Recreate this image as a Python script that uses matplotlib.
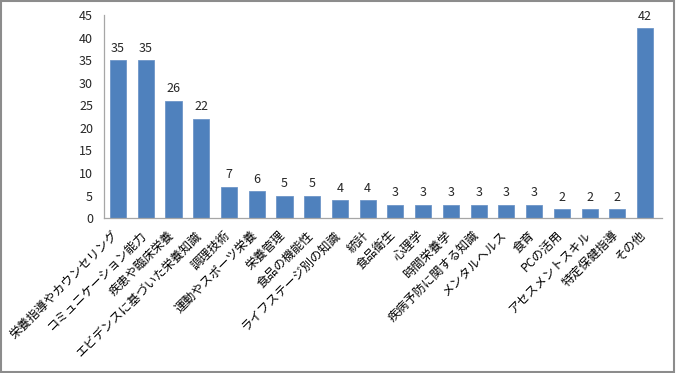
import matplotlib
matplotlib.use("Agg")
import matplotlib.pyplot as plt
import matplotlib.transforms as mtransforms
from matplotlib.patches import Rectangle

plt.rcParams["font.family"] = ["Noto Sans CJK JP", "DejaVu Sans"]

categories = [
    "栄養指導やカウンセリング", "コミュニケーション能力", "疾患や臨床栄養",
    "エビデンスに基づいた栄養知識", "調理技術", "運動やスポーツ栄養", "栄養管理",
    "食品の機能性", "ライフステージ別の知識", "統計", "食品衛生", "心理学",
    "時間栄養学", "疾病予防に関する知識", "メンタルヘルス", "食育", "PCの活用",
    "アセスメントスキル", "特定保健指導", "その他",
]
counts = [35, 35, 26, 22, 7, 6, 5, 5, 4, 4, 3, 3, 3, 3, 3, 3, 2, 2, 2, 42]
y_ticks = [0, 5, 10, 15, 20, 25, 30, 35, 40, 45]

BAR = "#4F81BD"
AXIS = "#A6A6A6"
INK = "#262626"

fig = plt.figure(figsize=(6.76, 3.73), dpi=100)
ax = fig.add_axes([0.154, 0.415, 0.825, 0.545])

x = list(range(len(categories)))
ax.bar(x, counts, width=0.58, color=BAR, edgecolor="#6F96C8", lw=0.6)
for xi, v in zip(x, counts):
    ax.text(xi, v + 1.2, str(v), ha="center", va="bottom", fontsize=9, color=INK)

ax.set_ylim(0, 45)
ax.set_xlim(-0.5, len(categories) - 0.4)
ax.set_yticks(y_ticks)
ax.tick_params(axis="y", length=0, labelsize=9, labelcolor=INK, pad=8)
ax.set_xticks(x)
ax.set_xticklabels(categories, rotation=45, ha="right", va="top",
                   rotation_mode="anchor", fontsize=8.8, color="black")
ax.tick_params(axis="x", length=0, pad=6)
shift = mtransforms.ScaledTranslation(-6 / 100, -2 / 100, fig.dpi_scale_trans)
for lab in ax.get_xticklabels():
    lab.set_transform(lab.get_transform() + shift)
for side in ("top", "right"):
    ax.spines[side].set_visible(False)
for side in ("left", "bottom"):
    ax.spines[side].set_color(AXIS)
    ax.spines[side].set_linewidth(0.9)

fig.patches.append(Rectangle((0.002, 0.003), 0.995, 0.993, transform=fig.transFigure,
                             fill=False, ec="#8C8C8C", lw=1.5))

fig.savefig("out.png", dpi=100, facecolor="white")
